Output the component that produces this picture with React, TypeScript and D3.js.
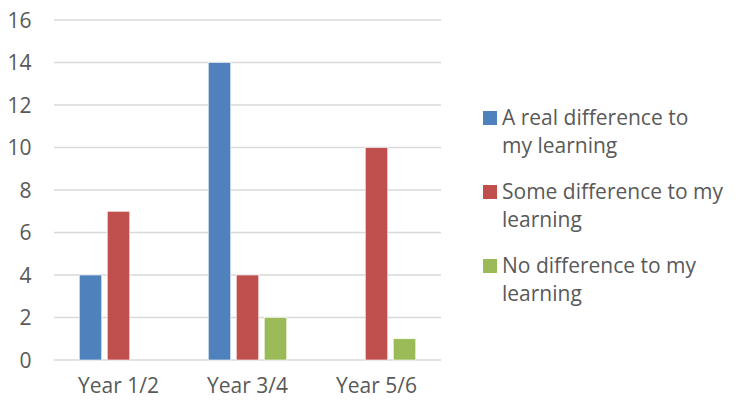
import React from "react";
import * as d3 from "d3";

const categories = ["Year 1/2", "Year 3/4", "Year 5/6"];
const seriesNames = ["A real difference to my learning", "Some difference to my learning", "No difference to my learning"];
const legendLines = [["A real difference to", "my learning"], ["Some difference to my", "learning"], ["No difference to my", "learning"]];
const realDiff = [4, 14, 0];
const someDiff = [7, 4, 10];
const noDiff = [0, 2, 1];
const yTicks = [0, 2, 4, 6, 8, 10, 12, 14, 16];
const colors = ["#4F81BD", "#C0504D", "#9BBB59"];

export default function App() {
  const W = 745, H = 400;
  const left = 54, right = 441, top = 20, bottom = 360;
  const series = [realDiff, someDiff, noDiff];
  const x = d3.scaleBand<string>().domain(categories).range([left, right]).paddingInner(0).paddingOuter(0);
  const y = d3.scaleLinear().domain([0, 16]).range([bottom, top]);
  const barW = 22.5, gap = 5.5;
  const groupW = 3 * barW + 2 * gap;
  const font = "'Open Sans', sans-serif";
  const textColor = "#595959";
  return (
    <svg width={W} height={H} style={{ position: "absolute", left: 0, top: 0, background: "#fff" }}>
      {yTicks.map((t) => (
        <g key={t}>
          <line x1={left} x2={right} y1={y(t)} y2={y(t)} stroke="#D9D9D9" strokeWidth={1.3} />
          <text x={31.5} y={y(t)} dy="0.36em" textAnchor="end" fontFamily={font} fontSize={21} fill={textColor}>{t}</text>
        </g>
      ))}
      {categories.map((c, ci) => {
        const cx = (x(c) as number) + x.bandwidth() / 2;
        return (
          <g key={c}>
            {series.map((s, si) => s[ci] > 0 ? (
              <rect key={si} x={cx - groupW / 2 + si * (barW + gap)} y={y(s[ci])} width={barW} height={y(0) - y(s[ci])}
                fill={colors[si]} stroke="#fff" strokeWidth={0.6} />
            ) : null)}
            <text x={cx} y={393} textAnchor="middle" fontFamily={font} fontSize={21} fill={textColor}>{c}</text>
          </g>
        );
      })}
      {seriesNames.map((name, i) => {
        const by = 125 + i * 74;
        return (
          <g key={name}>
            <rect x={483} y={by - 14} width={14} height={14} fill={colors[i]} />
            {legendLines[i].map((ln, li) => (
              <text key={li} x={502} y={by + li * 28} fontFamily={font} fontSize={21} fill={textColor}>{ln}</text>
            ))}
          </g>
        );
      })}
    </svg>
  );
}
